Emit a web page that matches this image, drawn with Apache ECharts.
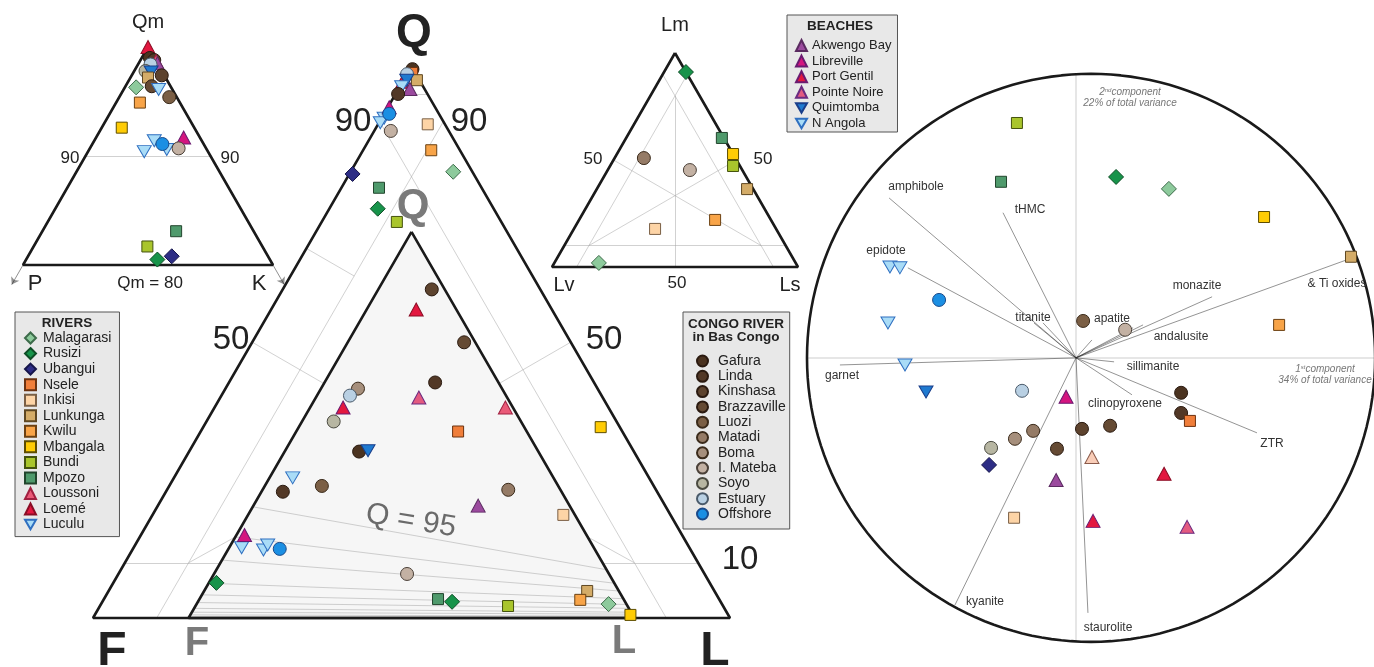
<!DOCTYPE html>
<html>
<head>
<meta charset="utf-8">
<title>QFL / QmPK / LmLvLs / PCA</title>
<script src="https://cdn.jsdelivr.net/npm/echarts@6.0.0/dist/echarts.min.js"></script>
<style>
html,body{margin:0;padding:0;background:#fff;}
#chart{width:1374px;height:667px;}
</style>
</head>
<body>
<div id="chart"></div>
<script>
/*
* provenance plots : QmPK, QFL, LmLvLs and PCA biplot
* */
var SQ3 = Math.sqrt(3) / 2;
var FONT = "'Liberation Sans', Arial, sans-serif";

// legend groups
var riverNames = ['Malagarasi','Rusizi','Ubangui','Nsele','Inkisi','Lunkunga','Kwilu','Mbangala','Bundi','Mpozo','Loussoni','Loemé','Luculu'];
var beachNames = ['Akwengo Bay','Libreville','Port Gentil','Pointe Noire','Quimtomba','N Angola'];
var congoNames = ['Gafura','Linda','Kinshasa','Brazzaville','Luozi','Matadi','Boma','I. Mateba','Soyo','Estuary','Offshore'];

// QmPK : [group, Qm, P, K]
var qmpkPoints = [
    ['Loemé',100,0,0],['Gafura',99,0.35,0.65],['Linda',98.8,0.1,1.1],['Loussoni',98.7,0,1.3],
    ['Akwengo Bay',98.5,0,1.5],['Estuary',98.4,0.6,1.0],['Soyo',97.8,1.3,0.9],['Quimtomba',97.7,0.9,1.4],
    ['Kinshasa',97.4,0.2,2.4],['Lunkunga',97.2,1.4,1.4],['Malagarasi',96.3,2.8,0.9],['Brazzaville',96.4,1.5,2.1],
    ['Luculu',96.1,1.1,2.8],['Luozi',95.4,0.6,4.0],['Kwilu',94.9,3.2,1.9],['Mbangala',92.6,5.8,1.6],
    ['Libreville',91.7,1.3,7.0],['N Angola',91.4,3.8,4.8],['N Angola',90.6,3.2,6.2],['N Angola',90.4,5.1,4.5],
    ['Offshore',91.1,3.3,5.6],['I. Mateba',90.7,2.2,7.1],['Mpozo',83.1,6.2,10.7],['Bundi',81.7,9.2,9.1],
    ['Ubangui',80.8,7.7,11.5],['Rusizi',80.5,9.0,10.5]
];

// QFL, outer triangle : [group, Q, F, L]
var qflOuterPoints = [
    ['Gafura',99.5,0.1,0.4],['Nsele',98.8,0.5,0.7],['Estuary',98.6,1.4,0],['Lunkunga',97.5,0.4,2.1],
    ['Loemé',97.2,2.8,0],['Quimtomba',97.5,2.0,0.5],['N Angola',96.3,3.4,0.3],['Akwengo Bay',95.9,2.3,1.8],
    ['Linda',95,4.6,0.4],['Libreville',92.6,7.2,0.2],['Offshore',91.4,7.8,0.8],['N Angola',90.6,9.0,0.4],
    ['N Angola',89.8,10.0,0.2],['I. Mateba',88.3,9.1,2.6],['Inkisi',89.5,2.7,7.8],['Kwilu',84.8,4.5,10.7],
    ['Malagarasi',80.9,3.0,16.1],['Ubangui',80.5,19.0,0.5],['Mpozo',78.0,16.1,5.9],['Rusizi',74.2,18.2,7.6],
    ['Bundi',71.8,16.4,11.8],['Mbangala',34.6,3.0,62.4]
];

// QFL, expanded inner triangle : [group, Q, F, L]
var qflInnerPoints = [
    ['Kinshasa',85.1,2.9,12.0],['Loemé',79.9,9.0,11.1],['Brazzaville',71.4,2.5,26.1],['Linda',61.0,14.2,24.8],
    ['Pointe Noire',57.1,19.8,23.1],['Loussoni',54.5,1.7,43.8],['Nsele',48.3,15.4,36.3],['Matadi',33.2,11.7,55.1],
    ['Akwengo Bay',29.1,20.5,50.4],['Inkisi',26.7,2.6,70.7],['I. Mateba',11.4,45.3,43.3],['Mpozo',4.9,41.6,53.5],
    ['Rusizi',4.2,38.8,57.0],['Bundi',3.1,26.8,70.1],['Lunkunga',7.0,7.1,85.9],['Kwilu',4.7,9.8,85.5],
    ['Malagarasi',3.6,4.0,92.4],['Mbangala',0.8,0.5,98.7],['Boma',59.4,32.3,8.3],['Estuary',57.6,35.0,7.4],
    ['Port Gentil',54.5,38.1,7.4],['Soyo',50.9,42.0,7.1],['Gafura',43.1,40.2,16.7],['Quimtomba',43.3,38.1,18.6],
    ['N Angola',36.3,58.5,5.2],['Luozi',34.2,53.0,12.8],['Linda',32.7,62.5,4.8],['Libreville',21.5,76.7,1.8],
    ['N Angola',18.2,79.0,2.8],['N Angola',17.6,74.4,8.0],['N Angola',18.9,72.8,8.3],['Offshore',17.9,70.6,11.5],
    ['Rusizi',9.1,89.2,1.7]
];

// LmLvLs : [group, Lm, Lv, Ls]
var lmPoints = [
    ['Rusizi',91.1,0,8.9],['Mpozo',60.3,0.8,38.9],['Mbangala',52.8,0,47.2],['Bundi',47.2,2.8,50.0],
    ['Lunkunga',36.4,2.5,61.1],['Matadi',50.9,37.2,11.9],['I. Mateba',45.3,21.3,33.4],['Kwilu',22.0,22.7,55.3],
    ['Inkisi',17.8,49.2,33.0],['Malagarasi',1.9,80.0,18.1]
];

// PCA scores : [group, PC1, PC2]
var pcaScores = [
    ['Bundi',-0.208,0.827],['Mpozo',-0.264,0.620],['N Angola',-0.655,0.320],['N Angola',-0.620,0.317],
    ['Offshore',-0.482,0.204],['Luculu',-0.662,0.123],['N Angola',-0.602,-0.025],['Luozi',0.025,0.130],
    ['Rusizi',0.141,0.637],['Malagarasi',0.327,0.595],['Mbangala',0.662,0.496],['Lunkunga',0.968,0.356],
    ['Kwilu',0.715,0.116],['I. Mateba',0.173,0.099],['Gafura',0.370,-0.123],['Linda',0.370,-0.194],
    ['Nsele',0.401,-0.222],['Kinshasa',0.021,-0.250],['Brazzaville',0.120,-0.239],['pale',0.056,-0.349],
    ['Loemé',0.310,-0.408],['Port Gentil',0.060,-0.574],['Pointe Noire',0.391,-0.595],['Quimtomba',-0.528,-0.120],
    ['Estuary',-0.190,-0.116],['Libreville',-0.035,-0.137],['Matadi',-0.151,-0.257],['Boma',-0.215,-0.285],
    ['Soyo',-0.299,-0.317],['Ubangui',-0.306,-0.377],['Brazzaville',-0.067,-0.320],['Akwengo Bay',-0.070,-0.430],
    ['Inkisi',-0.218,-0.563]
];

// PCA loadings : [name, PC1, PC2]
var pcaLoadings = [
    ['amphibole',-0.658,0.563],['tHMC',-0.257,0.511],['epidote',-0.592,0.317],['titanite',-0.148,0.123],
    ['titanite',-0.116,0.123],['garnet',-0.831,-0.025],['monazite',0.479,0.215],['& Ti oxides',0.972,0.352],
    ['andalusite',0.236,0.116],['andalusite',0.201,0.106],['apatite',0.056,0.063],['sillimanite',0.134,-0.014],
    ['clinopyroxene',0.197,-0.130],['ZTR',0.637,-0.264],['staurolite',0.042,-0.898],['kyanite',-0.426,-0.870]
];

// guide lines (compositions)
var qmpkGuides = [ [[90,10,0],[90,0,10]] ];
var qflGuides = [
    [[95,5,0],[95,0,5]],
    [[90,10,0],[0,10,90]],
    [[90,0,10],[0,90,10]],
    [[10,90,0],[10,75,15]],
    [[10,15,75],[10,0,90]],
    [[50,50,0],[42.5,42.5,15]],
    [[50,0,50],[42.5,15,42.5]],
    [[67,33,0],[62,28,10]],
    [[14.7,70.3,15],[10,80,10]],
    [[14.7,15,70.3],[10,10,80]]
];
// fan lines inside the expanded triangle : [left side Q, right side Q]
var innerFan = [[28.8,12.5],[21,9],[15,7],[9,5],[6,3.5],[4,2.5],[2.5,1.5],[1.5,1],[0.8,0.5]];
var lmGuides = [
    [[10,90,0],[10,0,90]],
    [[90,10,0],[0,10,90]],
    [[90,0,10],[0,90,10]],
    [[80,10,10],[0,50,50]],
    [[50,50,0],[10,10,80]],
    [[50,0,50],[10,80,10]]
];

var down = 'path://M0,0L10,0L5,8.66Z';
var groupStyle = {
    'Malagarasi':   ['diamond','#8dca9c','#3d6b4a'],
    'Rusizi':       ['diamond','#17934a','#0d4d25'],
    'Ubangui':      ['diamond','#2d2d85','#15154a'],
    'Nsele':        ['rect','#f07e3a','#6b3210'],
    'Inkisi':       ['rect','#fdd4a6','#7a5f45'],
    'Lunkunga':     ['rect','#d4ac68','#5e4722'],
    'Kwilu':        ['rect','#f8a448','#6b4012'],
    'Mbangala':     ['rect','#ffcc05','#5e4d00'],
    'Bundi':        ['rect','#a9c52c','#44520e'],
    'Mpozo':        ['rect','#4f9a6c','#22452d'],
    'Loussoni':     ['triangle','#ea5a78','#a02040'],
    'Loemé':        ['triangle','#e3173f','#8a0d25'],
    'Luculu':       [down,'#a9dcf7','#2f6fc0'],
    'Akwengo Bay':  ['triangle','#9b4a9e','#5a2a60'],
    'Libreville':   ['triangle','#d4157f','#6a1a70'],
    'Port Gentil':  ['triangle','#e3173f','#6a1a70'],
    'Pointe Noire': ['triangle','#e35a80','#6a2a80'],
    'Quimtomba':    [down,'#1f7ad0','#1a3e8a'],
    'N Angola':     [down,'#a9dcf7','#2f6fc0'],
    'Gafura':       ['circle','#4b3320','#2a1a10'],
    'Linda':        ['circle','#523826','#2a1a10'],
    'Kinshasa':     ['circle','#5d432e','#2a1a10'],
    'Brazzaville':  ['circle','#654a33','#2a1a10'],
    'Luozi':        ['circle','#7b5f45','#3a2a1a'],
    'Matadi':       ['circle','#957b66','#3a2a1a'],
    'Boma':         ['circle','#a68f7c','#3a2a1a'],
    'I. Mateba':    ['circle','#c3b1a3','#4a4038'],
    'Soyo':         ['circle','#b7b6a2','#4a4a40'],
    'Estuary':      ['circle','#b9d0e3','#4a5a6a'],
    'Offshore':     ['circle','#1b8fe3','#1a4a8a'],
    'pale':         ['triangle','#f9cdb8','#8a5a4a']
};
var symbolSizes = { rect: 11, circle: 13, diamond: 15, triangle: [14,13] };

// ternary -> cartesian, top corner first
function tern(top, left, right){
    var s = top + left + right;
    top = top / s * 100; right = right / s * 100;
    return [right + top / 2, top * SQ3];
}
// expanded triangle sits at F>=15, L>=15 of the big QFL triangle
function innerToOuter(q, f, l){
    return tern(0.7 * q, 15 + 0.7 * f, 15 + 0.7 * l);
}

var series = [];
var blackLine = { color: '#1a1a1a', width: 2.6 };
var greyLine = { color: '#a3a3a3', width: 1 };

function poly(points, idx, style, z){
    series.push({ type: 'line', xAxisIndex: idx, yAxisIndex: idx, data: points, showSymbol: false,
        symbol: 'none', lineStyle: style, silent: true, clip: false, z: z || 2, animation: false });
}
function segs(list, idx, style, z){
    series.push({ type: 'lines', coordinateSystem: 'cartesian2d', xAxisIndex: idx, yAxisIndex: idx,
        data: list.map(function(s){ return { coords: s }; }), lineStyle: style, silent: true, z: z || 2,
        clip: false, animation: false });
}
function addScatter(points, idx, toXY){
    var byGroup = {};
    points.forEach(function(p){
        (byGroup[p[0]] = byGroup[p[0]] || []).push(toXY(p));
    });
    Object.keys(byGroup).forEach(function(g){
        var st = groupStyle[g];
        var size = st[0] === down ? [14,12] : symbolSizes[st[0]];
        series.push({ type: 'scatter', name: g, xAxisIndex: idx, yAxisIndex: idx, data: byGroup[g],
            symbol: st[0], symbolSize: size, silent: true, z: 5, animation: false, clip: false,
            itemStyle: { color: st[1], borderColor: st[2], borderWidth: 1, opacity: 1 } });
    });
}

// ---- QmPK (grid 0) ----
poly([tern(100,0,0), tern(80,20,0), tern(80,0,20), tern(100,0,0)], 0, blackLine, 3);
segs(qmpkGuides.map(function(g){ return [tern.apply(null, g[0]), tern.apply(null, g[1])]; }), 0, greyLine);
series.push({ type: 'lines', coordinateSystem: 'cartesian2d', xAxisIndex: 0, yAxisIndex: 0, silent: true,
    symbol: ['none','arrow'], symbolSize: 7, lineStyle: { color: '#222', width: 1 }, z: 3, animation: false,
    clip: false,
    data: [ { coords: [tern(80,20,0), tern(78.2,21.8,0)] }, { coords: [tern(80,0,20), tern(78.2,0,21.8)] } ] });
addScatter(qmpkPoints, 0, function(p){ return tern(p[1], p[2], p[3]); });

// ---- QFL (grid 1) ----
series.push({ type: 'custom', xAxisIndex: 1, yAxisIndex: 1, silent: true, z: 1, animation: false, data: [[0,0]],
    renderItem: function(params, api){
        var pts = [innerToOuter(100,0,0), innerToOuter(0,100,0), innerToOuter(0,0,100)];
        return { type: 'polygon', shape: { points: pts.map(function(c){ return api.coord(c); }) },
            style: { fill: '#f6f6f6' } };
    } });
poly([tern(100,0,0), tern(0,100,0), tern(0,0,100), tern(100,0,0)], 1, blackLine, 3);
poly([innerToOuter(100,0,0), innerToOuter(0,100,0), innerToOuter(0,0,100), innerToOuter(100,0,0)], 1, blackLine, 3);
segs(qflGuides.map(function(g){ return [tern.apply(null, g[0]), tern.apply(null, g[1])]; }), 1, greyLine);
segs(innerFan.map(function(f){ return [innerToOuter(f[0], 100 - f[0], 0), innerToOuter(f[1], 0, 100 - f[1])]; }), 1, greyLine);
addScatter(qflOuterPoints, 1, function(p){ return tern(p[1], p[2], p[3]); });
addScatter(qflInnerPoints, 1, function(p){ return innerToOuter(p[1], p[2], p[3]); });

// ---- LmLvLs (grid 2) ----
poly([tern(100,0,0), tern(0,100,0), tern(0,0,100), tern(100,0,0)], 2, blackLine, 3);
segs(lmGuides.map(function(g){ return [tern.apply(null, g[0]), tern.apply(null, g[1])]; }), 2, greyLine);
addScatter(lmPoints, 2, function(p){ return tern(p[1], p[2], p[3]); });

// ---- PCA biplot (grid 3) ----
var circle = [];
for (var a = 0; a <= 360; a += 2) {
    circle.push([0.053 + Math.cos(a * Math.PI / 180), Math.sin(a * Math.PI / 180)]);
}
poly(circle, 3, { color: '#1a1a1a', width: 2.6 }, 3);
segs([[[-0.945,0],[1.05,0]], [[0,0.998],[0,-0.998]]], 3, { color: '#bdbdbd', width: 1.5 }, 1);
segs(pcaLoadings.map(function(l){ return [[0,0],[l[1],l[2]]]; }), 3, { color: '#2a2a2a', width: 1 });
addScatter(pcaScores, 3, function(p){ return [p[1], p[2]]; });

// ---- texts ----
function txt(x, y, s, size, opt){
    opt = opt || {};
    return { type: 'text', x: x, y: y, rotation: opt.rot || 0, z: 50, silent: true,
        style: { text: s, fill: opt.color || '#222', fontSize: size, fontWeight: opt.bold ? 'bold' : 'normal',
            fontStyle: opt.italic ? 'italic' : 'normal', fontFamily: FONT, align: opt.align || 'center',
            verticalAlign: 'middle', rich: opt.rich } };
}
var supRich = { n: { fontSize: 10, fontStyle: 'italic', fill: '#777', fontFamily: FONT },
    s: { fontSize: 6, fontStyle: 'italic', fill: '#777', verticalAlign: 'top', fontFamily: FONT } };
var graphics = [
    txt(148,22,'Qm',20), txt(70,158,'90',17), txt(230,158,'90',17),
    txt(35,284,'P',22), txt(150,283,'Qm = 80',17), txt(259,284,'K',22),
    txt(414,33,'Q',46,{bold:true}), txt(353,122,'90',33), txt(469,122,'90',33),
    txt(413,206,'Q',42,{bold:true,color:'#7a7a7a'}),
    txt(231,340,'50',33), txt(604,340,'50',33), txt(740,560,'10',33),
    txt(411,521,'Q = 95',30,{color:'#6a6a6a',rot:-0.16}),
    txt(112,652,'F',48,{bold:true}), txt(715,652,'L',48,{bold:true}),
    txt(197,644,'F',40,{bold:true,color:'#7a7a7a'}), txt(624,642,'L',40,{bold:true,color:'#7a7a7a'}),
    txt(675,25,'Lm',20), txt(593,159,'50',17), txt(763,159,'50',17),
    txt(564,285,'Lv',20), txt(677,283,'50',17), txt(790,285,'Ls',20),
    txt(67,323,'RIVERS',13.5,{bold:true}), txt(840,26,'BEACHES',13.5,{bold:true}),
    txt(736,324,'CONGO RIVER',13.5,{bold:true}), txt(736,337,'in Bas Congo',13.5,{bold:true}),
    txt(916,187,'amphibole',12,{color:'#333'}), txt(1030,210,'tHMC',12,{color:'#333'}),
    txt(886,251,'epidote',12,{color:'#333'}), txt(1033,318,'titanite',12,{color:'#333'}),
    txt(842,376,'garnet',12,{color:'#333'}), txt(1197,286,'monazite',12,{color:'#333'}),
    txt(1337,284,'& Ti oxides',12,{color:'#333'}), txt(1112,319,'apatite',12,{color:'#333'}),
    txt(1181,337,'andalusite',12,{color:'#333'}), txt(1153,367,'sillimanite',12,{color:'#333'}),
    txt(1125,404,'clinopyroxene',12,{color:'#333'}), txt(1272,444,'ZTR',12,{color:'#333'}),
    txt(1108,628,'staurolite',12,{color:'#333'}), txt(985,602,'kyanite',12,{color:'#333'}),
    txt(1130,92,'{n|2}{s|nd}{n|component}',10,{color:'#777',italic:true,rich:supRich}),
    txt(1130,103,'22% of total variance',10,{color:'#777',italic:true}),
    txt(1325,369,'{n|1}{s|st}{n|component}',10,{color:'#777',italic:true,rich:supRich}),
    txt(1325,380,'34% of total variance',10,{color:'#777',italic:true})
];

function legendBox(names, left, top, padding, size, gap, textPad){
    return { data: names, orient: 'vertical', left: left, top: top, padding: padding,
        itemWidth: 11, itemHeight: 11, itemGap: gap, selectedMode: false,
        backgroundColor: '#e8e8e8', borderColor: '#555', borderWidth: 1,
        textStyle: { fontSize: size, lineHeight: size, color: '#222', fontFamily: FONT, padding: [0,0,0,textPad] } };
}

var axisOff = function(min, max, idx){ return { type: 'value', min: min, max: max, show: false, gridIndex: idx }; };
var option = {
    backgroundColor: '#fff',
    animation: false,
    grid: [
        { left: 23, top: 47, width: 250, height: 218 },
        { left: 93, top: 66.4, width: 637, height: 551.6 },
        { left: 552, top: 53, width: 246, height: 214 },
        { left: 807, top: 75, width: 567, height: 568 }
    ],
    xAxis: [ axisOff(40,60,0), axisOff(0,100,1), axisOff(0,100,2), axisOff(-0.947,1.049,3) ],
    yAxis: [ axisOff(80 * SQ3, 100 * SQ3, 0), axisOff(0,100 * SQ3,1), axisOff(0,100 * SQ3,2), axisOff(-1.004,0.996,3) ],
    legend: [
        legendBox(riverNames, 15, 312, [19,8,5,9], 14, 1.55, 2),
        legendBox(beachNames, 787, 15, [24,6,2,8], 13, 2.6, 0),
        legendBox(congoNames, 683, 312, [42,4,8,13], 14, 1.3, 5)
    ],
    graphic: graphics,
    series: series
};

var myChart = echarts.init(document.getElementById('chart'));
myChart.setOption(option);
</script>
</body>
</html>
